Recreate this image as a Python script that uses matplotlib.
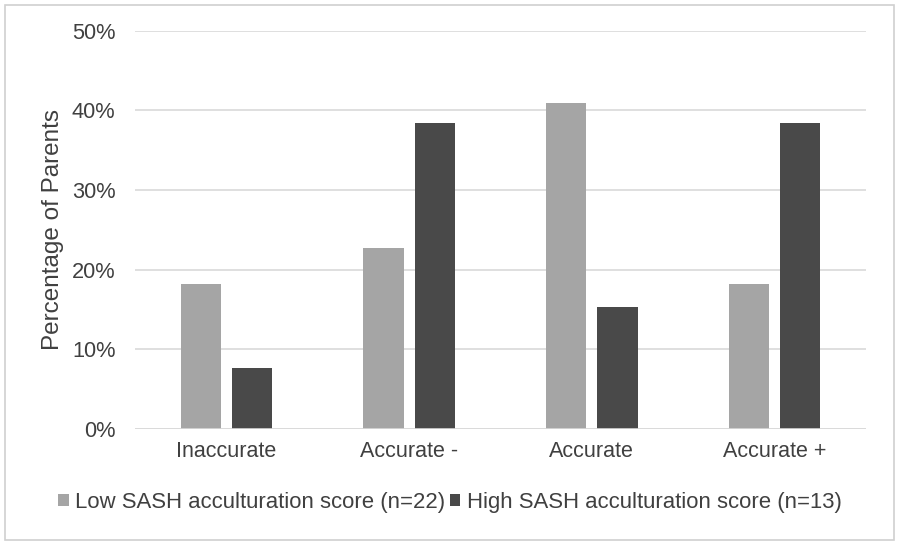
import matplotlib
matplotlib.use("Agg")
import matplotlib.pyplot as plt
import numpy as np
from matplotlib.patches import Rectangle

plt.rcParams['font.family'] = ['Liberation Sans', 'DejaVu Sans']

categories = ["Inaccurate", "Accurate -", "Accurate", "Accurate +"]
low_vals = [18.18, 22.73, 40.91, 18.18]
high_vals = [7.69, 38.46, 15.38, 38.46]
series_names = ["Low SASH acculturation score (n=22)", "High SASH acculturation score (n=13)"]
yticks = [0, 10, 20, 30, 40, 50]

low_color = "#A5A5A5"
high_color = "#494949"
text_color = "#404040"

fig = plt.figure(figsize=(9, 5.44), dpi=100)
fig.patches.append(Rectangle((0.005, 0.007), 0.988, 0.983, transform=fig.transFigure,
                             fill=False, edgecolor="#D0D0D0", linewidth=1.2))
ax = fig.add_axes([0.15, 0.2114, 0.8122, 0.732])

x = np.arange(len(categories))
w = 0.22
gap = 0.06
ax.bar(x - (w + gap) / 2, low_vals, width=w, color=low_color, label=series_names[0], zorder=3)
ax.bar(x + (w + gap) / 2, high_vals, width=w, color=high_color, label=series_names[1], zorder=3)

ax.set_xlim(-0.5, len(categories) - 0.5)
ax.set_ylim(0, 50)
ax.set_yticks(yticks)
ax.set_yticklabels([f"{v}%" for v in yticks], fontsize=15.7, color=text_color)
ax.set_xticks(x)
ax.set_xticklabels(categories, fontsize=15.5, color=text_color)
ax.tick_params(axis='y', length=0, pad=14)
ax.tick_params(axis='x', length=0, pad=9)
ax.grid(axis='y', color="#D9D9D9", linewidth=1.2, zorder=0)
for s in ax.spines.values():
    s.set_visible(False)
ax.axhline(0, color="#D9D9D9", linewidth=1.2, zorder=4)
ax.set_ylabel("Percentage of Parents", fontsize=17.5, color=text_color, labelpad=6)

fig.legend(loc='center', bbox_to_anchor=(0.5, 0.077), ncol=2, frameon=False,
           fontsize=15.9, labelcolor=text_color, handlelength=0.47, handleheight=0.47,
           handletextpad=0.3, columnspacing=0.2)

fig.savefig("out.png", dpi=100)
